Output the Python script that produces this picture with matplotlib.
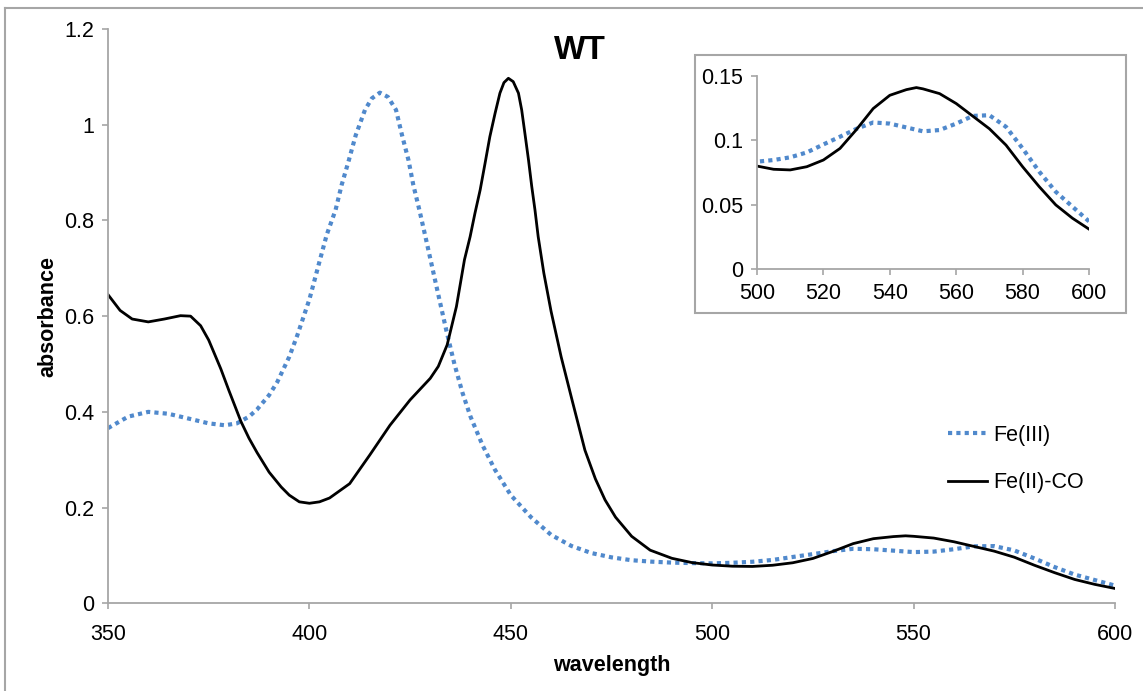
import numpy as np
import matplotlib
matplotlib.use("Agg")
import matplotlib.pyplot as plt
from matplotlib.lines import Line2D
from matplotlib.patches import Rectangle

plt.rcParams['font.family'] = ['Liberation Sans', 'DejaVu Sans']

# Fe(III) (dotted blue)
wl_fe3 = [350, 355, 360, 365, 370, 375, 379, 382, 385, 387, 390, 392, 395, 397, 400,
          402.6, 404.3, 406.5, 408.0, 409.8, 411.5, 413.8, 415.5, 417.5, 419.5, 421.5,
          423.0, 424.6, 425.8, 427.3, 428.7, 430.1, 432, 434, 436, 438, 440, 443, 446,
          450, 455, 460, 465, 470, 475, 480, 485, 490, 495,
          500, 505, 510, 515, 520, 525, 530, 535, 540, 545, 550, 555, 560, 565, 570,
          575, 580, 585, 590, 595, 600]
abs_fe3 = [0.366, 0.39, 0.400, 0.396, 0.386, 0.376, 0.372, 0.376, 0.39, 0.405, 0.435,
           0.462, 0.515, 0.56, 0.635,
           0.717, 0.77, 0.822, 0.874, 0.926, 0.978, 1.031, 1.055, 1.067, 1.058, 1.031,
           0.978, 0.926, 0.874, 0.822, 0.77, 0.717, 0.645, 0.57, 0.50, 0.44, 0.39, 0.33,
           0.28, 0.226, 0.18, 0.143, 0.12, 0.105, 0.096, 0.09, 0.087, 0.085, 0.084,
           0.0834, 0.0847, 0.0868, 0.0906, 0.0968, 0.1028, 0.109, 0.1139, 0.113, 0.110,
           0.107, 0.108, 0.113, 0.119, 0.1195, 0.1105, 0.0937, 0.0757, 0.060, 0.0485,
           0.037]

# Fe(II)-CO (solid black)
wl_co = [350, 353, 356, 360, 364, 368, 370.5, 373, 375, 378, 380, 383, 385, 387, 390,
         393, 395, 397.5, 400, 402.5, 405, 410, 415, 420, 425, 430, 432, 434.2, 436.5,
         438.5, 439.9, 441.1, 442.4, 443.6, 444.8, 446.1, 447.3, 448.3, 449.4, 450.6,
         451.9, 452.7, 453.5, 454.4, 455.2, 456.0, 456.8, 458.2, 460, 462.5, 465.2,
         468.4, 471, 473.4, 476, 480, 484.6, 490, 495,
         500, 505, 510, 515, 520, 525, 530, 535, 540, 545, 548, 550, 555, 560, 565, 570,
         575, 580, 585, 590, 595, 600]
abs_co = [0.645, 0.612, 0.594, 0.588, 0.594, 0.601, 0.6, 0.58, 0.55, 0.49, 0.445, 0.38,
          0.345, 0.315, 0.274, 0.243, 0.226, 0.212, 0.209, 0.212, 0.22, 0.25, 0.31,
          0.372, 0.425, 0.47, 0.495, 0.54, 0.62, 0.718, 0.766, 0.815, 0.864, 0.919,
          0.975, 1.024, 1.066, 1.088, 1.097, 1.090, 1.066, 1.031, 0.982, 0.926, 0.871,
          0.822, 0.766, 0.69, 0.61, 0.515, 0.425, 0.32, 0.26, 0.216, 0.18, 0.14, 0.111,
          0.094, 0.085,
          0.080, 0.0775, 0.077, 0.0795, 0.0847, 0.0937, 0.1085, 0.1247, 0.135, 0.1394,
          0.141, 0.140, 0.1363, 0.1286, 0.1188, 0.109, 0.0963, 0.0795, 0.064, 0.0498,
          0.0395, 0.031]

blue = '#5089cc'
gray = '#a6a6a6'
fs = 15.5

fig = plt.figure(figsize=(11.43, 6.91), dpi=100)

# outer frame (left and top edges visible)
fig.add_artist(Line2D([5/1143, 5/1143], [0, 1 - 8/691], transform=fig.transFigure,
                      color=gray, lw=1.5))
fig.add_artist(Line2D([5/1143, 1], [1 - 8/691, 1 - 8/691], transform=fig.transFigure,
                      color=gray, lw=1.5))

ax = fig.add_axes([108/1143, 1 - 603.3/691, 1007/1143, 574.3/691])
ax.plot(wl_fe3, abs_fe3, color=blue, lw=3, linestyle=(0, (1, 1)), label='Fe(III)')
ax.plot(wl_co, abs_co, color='black', lw=2, label='Fe(II)-CO')
ax.set_xlim(350, 600)
ax.set_ylim(0, 1.2)
ax.set_xticks([350, 400, 450, 500, 550, 600])
ax.set_yticks([0, 0.2, 0.4, 0.6, 0.8, 1.0, 1.2])
ax.set_yticklabels(['0', '0.2', '0.4', '0.6', '0.8', '1', '1.2'])
for s in ['top', 'right']:
    ax.spines[s].set_visible(False)
for s in ['left', 'bottom']:
    ax.spines[s].set_color(gray)
    ax.spines[s].set_linewidth(1.3)
ax.tick_params(direction='out', length=4, width=1.2, color=gray, labelsize=fs, pad=6)
ax.tick_params(axis='x', pad=11)
ax.set_xlabel('wavelength', fontsize=fs, fontweight='bold', labelpad=7)
ax.set_ylabel('absorbance', fontsize=fs, fontweight='bold', labelpad=4)
ax.text(0.469, 0.962, 'WT', transform=ax.transAxes, fontsize=24, fontweight='bold',
        ha='center', va='center')
ax.legend(loc='upper left', bbox_to_anchor=(0.815, 0.345), frameon=False, fontsize=fs,
          handlelength=1.8, labelspacing=1.25, handletextpad=0.3)

# inset frame and axes
fig.add_artist(Rectangle((695/1143, 1 - 313/691), 431/1143, 258/691,
                         transform=fig.transFigure, fill=False, edgecolor=gray, lw=1.5))
ins = fig.add_axes([757/1143, 1 - 269/691, 332/1143, 193/691])
ins.plot(wl_fe3, abs_fe3, color=blue, lw=3, linestyle=(0, (1, 1)))
ins.plot(wl_co, abs_co, color='black', lw=2)
ins.set_xlim(500, 600)
ins.set_ylim(0, 0.15)
ins.set_xticks([500, 520, 540, 560, 580, 600])
ins.set_yticks([0, 0.05, 0.1, 0.15])
ins.set_yticklabels(['0', '0.05', '0.1', '0.15'])
for s in ['top', 'right']:
    ins.spines[s].set_visible(False)
for s in ['left', 'bottom']:
    ins.spines[s].set_color(gray)
    ins.spines[s].set_linewidth(1.3)
ins.tick_params(direction='out', length=4, width=1.2, color=gray, labelsize=fs, pad=6)

fig.savefig('out.png', dpi=100)
